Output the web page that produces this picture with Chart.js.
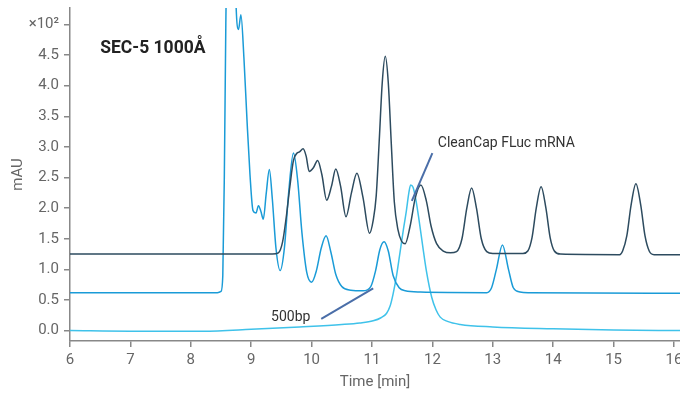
<!DOCTYPE html>
<html lang="en">
<head>
  <meta charset="UTF-8" />
  <title>SEC-5 1000Å chromatogram</title>
  <script src="https://cdn.jsdelivr.net/npm/chart.js"></script>
  <style>
    body { margin: 0; background: #fff; font-family: Roboto, Arial, sans-serif; }
    .chart-box { width: 680px; height: 394px; position: relative; }
  </style>
</head>
<body>
  <div class="chart-box">
    <canvas id="secChart"></canvas>
  </div>

  <script>
    // axis ticks
    const xTicks = [6, 7, 8, 9, 10, 11, 12, 13, 14, 15, 16];
    const yTicks = [0, 0.5, 1, 1.5, 2, 2.5, 3, 3.5, 4, 4.5, 5];

    // CleanCap FLuc mRNA + ladder (dark trace), values in mAU x10^2
    const ladderTime = [6.0, 9.35, 9.45, 9.52, 9.58, 9.64, 9.70, 9.76, 9.80, 9.86, 9.91, 9.96, 10.03, 10.10, 10.17,
      10.25, 10.33, 10.40, 10.48, 10.57, 10.66, 10.75, 10.85, 10.96, 11.02, 11.07, 11.12, 11.17, 11.22, 11.27,
      11.32, 11.37, 11.43, 11.49, 11.55, 11.63, 11.72, 11.81, 11.90, 11.98, 12.07, 12.18, 12.30, 12.40, 12.49,
      12.57, 12.65, 12.73, 12.81, 12.90, 13.00, 13.50, 13.58, 13.65, 13.72, 13.80, 13.88, 13.95, 14.02, 14.12,
      15.10, 15.15, 15.22, 15.29, 15.37, 15.45, 15.52, 15.59, 15.67, 16.10];
    const ladderValue = [1.25, 1.25, 1.27, 1.45, 1.85, 2.35, 2.78, 2.90, 2.92, 2.97, 2.85, 2.60, 2.66, 2.78, 2.55,
      2.13, 2.36, 2.64, 2.36, 1.86, 2.25, 2.57, 2.18, 1.59, 1.80, 2.20, 3.10, 4.05, 4.48, 4.05,
      3.05, 2.10, 1.65, 1.46, 1.42, 1.70, 2.18, 2.38, 2.12, 1.70, 1.42, 1.30, 1.27, 1.29, 1.50,
      2.00, 2.33, 2.00, 1.50, 1.29, 1.26, 1.26, 1.30, 1.52, 2.00, 2.35, 2.00, 1.52, 1.30, 1.25,
      1.24, 1.30, 1.55, 2.05, 2.40, 2.05, 1.55, 1.30, 1.24, 1.24];

    // 500bp ladder trace (mid blue)
    const ladder500Time = [6.0, 8.44, 8.50, 8.53, 8.555, 8.58, 8.61, 8.66, 8.71, 8.75, 8.79, 8.83, 8.88, 8.93, 8.98,
      9.03, 9.08, 9.12, 9.16, 9.20, 9.25, 9.30, 9.35, 9.41, 9.48, 9.55, 9.62, 9.70, 9.77, 9.84,
      9.92, 10.00, 10.08, 10.16, 10.24, 10.32, 10.40, 10.50, 10.65, 10.85, 10.98, 11.06, 11.13, 11.20, 11.27,
      11.35, 11.45, 11.55, 11.80, 12.90, 12.98, 13.06, 13.16, 13.26, 13.34, 13.45, 13.60, 16.10];
    const ladder500Value = [0.62, 0.62, 0.64, 0.90, 2.5, 5.0, 7.0, 7.5, 7.0, 5.3, 4.92, 5.16, 4.45, 3.45, 2.55,
      1.96, 1.92, 2.04, 1.95, 1.82, 2.25, 2.63, 2.15, 1.35, 0.98, 1.35, 2.25, 2.90, 2.45, 1.60,
      0.95, 0.79, 0.98, 1.35, 1.55, 1.28, 0.92, 0.72, 0.66, 0.65, 0.72, 0.98, 1.32, 1.45, 1.30,
      0.90, 0.70, 0.65, 0.63, 0.62, 0.70, 1.00, 1.40, 1.00, 0.70, 0.63, 0.62, 0.61];

    // mRNA sample trace (light blue)
    const mrnaTime = [6.0, 7.0, 8.2, 9.0, 9.8, 10.5, 10.8, 11.02, 11.15, 11.24, 11.30, 11.35, 11.41, 11.46, 11.52,
      11.57, 11.61, 11.64, 11.68, 11.73, 11.78, 11.84, 11.90, 11.99, 12.06, 12.13, 12.25, 12.46, 13.0, 14.0,
      15.0, 16.1];
    const mrnaValue = [0.0, -0.01, -0.01, 0.02, 0.06, 0.10, 0.125, 0.16, 0.21, 0.28, 0.40, 0.60, 0.92, 1.25, 1.65,
      1.96, 2.25, 2.38, 2.34, 2.12, 1.80, 1.38, 0.98, 0.54, 0.34, 0.22, 0.15, 0.10, 0.06, 0.03,
      0.01, 0.0];

    function toPoints(times, values) {
      return times.map((t, i) => ({ x: t, y: values[i] }));
    }

    // text labels and pointer lines, placed in data units
    const notes = [
      { text: 'SEC-5 1000Å', x: 6.5, y: 4.6, align: 'left', bold: true, size: 17.5, color: '#222' },
      { text: 'CleanCap FLuc mRNA', x: 12.09, y: 3.06, align: 'left', bold: false, size: 14, color: '#333' },
      { text: '500bp', x: 9.98, y: 0.22, align: 'right', bold: false, size: 14, color: '#333' }
    ];
    const pointers = [
      { x1: 10.16, y1: 0.19, x2: 11.02, y2: 0.69 },
      { x1: 11.66, y1: 2.12, x2: 12.0, y2: 2.90 }
    ];

    const notesPlugin = {
      id: 'notes',
      afterDatasetsDraw(chart) {
        const { ctx, scales: { x, y } } = chart;
        ctx.save();
        ctx.strokeStyle = '#4a6ea8';
        ctx.lineWidth = 2;
        pointers.forEach(p => {
          ctx.beginPath();
          ctx.moveTo(x.getPixelForValue(p.x1), y.getPixelForValue(p.y1));
          ctx.lineTo(x.getPixelForValue(p.x2), y.getPixelForValue(p.y2));
          ctx.stroke();
        });
        notes.forEach(n => {
          ctx.font = (n.bold ? 'bold ' : '') + n.size + 'px Roboto';
          ctx.fillStyle = n.color;
          ctx.textAlign = n.align;
          ctx.textBaseline = 'middle';
          ctx.fillText(n.text, x.getPixelForValue(n.x), y.getPixelForValue(n.y));
        });
        ctx.restore();
      }
    };

    const lineStyle = {
      pointRadius: 0,
      borderWidth: 1.5,
      cubicInterpolationMode: 'monotone',
      fill: false
    };

    new Chart(document.getElementById('secChart'), {
      type: 'line',
      data: {
        datasets: [
          { label: 'CleanCap FLuc mRNA ladder', data: toPoints(ladderTime, ladderValue), borderColor: '#2d4b5f', ...lineStyle },
          { label: '500bp', data: toPoints(ladder500Time, ladder500Value), borderColor: '#1a9bd7', ...lineStyle },
          { label: 'mRNA', data: toPoints(mrnaTime, mrnaValue), borderColor: '#3fc2ea', ...lineStyle }
        ]
      },
      options: {
        responsive: true,
        maintainAspectRatio: false,
        animation: false,
        layout: { autoPadding: false, padding: { top: 8, right: 0, left: 0, bottom: 0 } },
        plugins: { legend: { display: false }, tooltip: { enabled: false } },
        scales: {
          x: {
            type: 'linear',
            min: 6,
            max: 16.1,
            afterBuildTicks: s => { s.ticks = xTicks.map(v => ({ value: v })); },
            afterFit: s => { s.height = 53; s.paddingLeft = 0; s.paddingRight = 0; },
            grid: { drawOnChartArea: false, tickLength: 6, color: '#888', lineWidth: 1.5 },
            border: { color: '#888', width: 1.5 },
            ticks: { color: '#666', font: { family: 'Roboto', size: 15 }, padding: 4, maxRotation: 0 },
            title: { display: true, text: 'Time [min]', color: '#666', font: { family: 'Roboto', size: 15 }, padding: { top: 0, bottom: 3 } }
          },
          y: {
            min: -0.17,
            max: 5.27,
            afterBuildTicks: s => { s.ticks = yTicks.map(v => ({ value: v })); },
            afterFit: s => { s.width = 70; s.paddingTop = 0; s.paddingBottom = 0; },
            grid: { drawOnChartArea: false, tickLength: 6, color: '#888', lineWidth: 1.5 },
            border: { color: '#888', width: 1.5 },
            ticks: {
              color: '#666',
              font: { family: 'Roboto', size: 15 },
              padding: 5,
              callback: v => v === 5 ? '×10²' : v.toFixed(1)
            },
            title: { display: true, text: 'mAU', color: '#666', font: { family: 'Roboto', size: 15 }, padding: { top: 9, bottom: 0 } }
          }
        }
      },
      plugins: [notesPlugin]
    });
  </script>
</body>
</html>
